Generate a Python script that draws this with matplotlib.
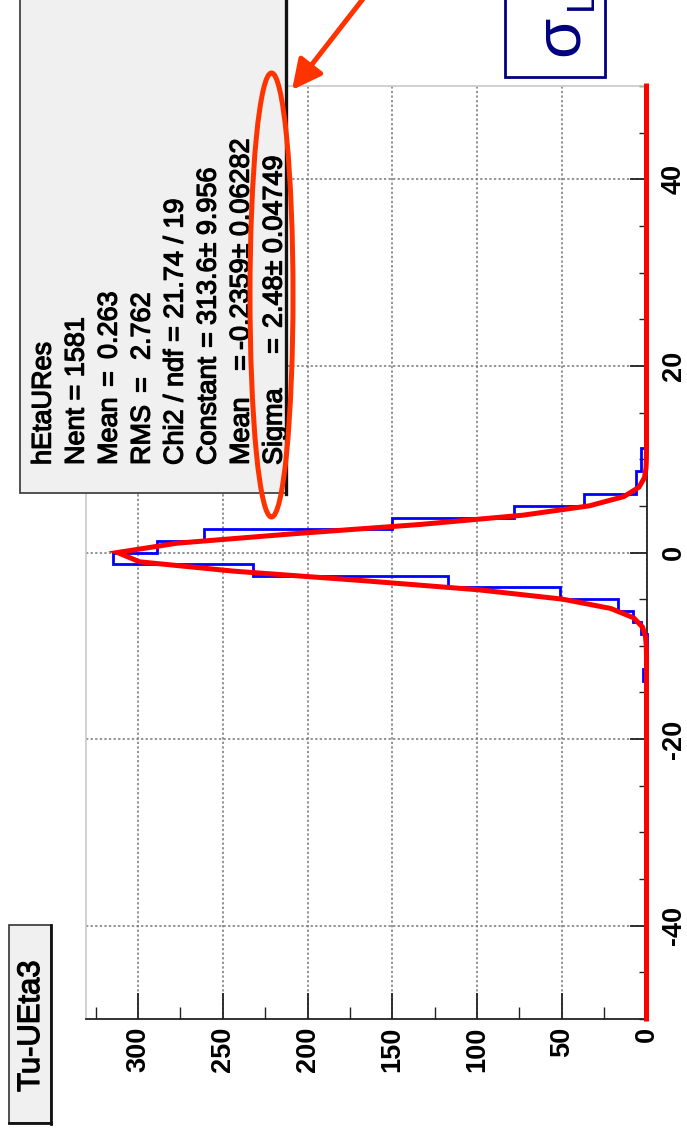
import numpy as np
import matplotlib
matplotlib.use("Agg")
import matplotlib.pyplot as plt
import matplotlib.patheffects as pe
from matplotlib.patches import Rectangle, Ellipse, FancyArrowPatch
from matplotlib.lines import Line2D
from matplotlib.ticker import FixedLocator, MultipleLocator

# ---------------- data ----------------
bin_low = -50.0
bin_high = 50.0
n_bins = 80
# counts per bin (bin width 1.25), from x=-50 upward
counts = [
    0, 0, 0, 0, 0, 0, 0, 0, 0, 0,
    0, 0, 0, 0, 0, 0, 0, 0, 0, 0,
    0, 0, 0, 0, 0, 1, 0, 0, 0, 2,
    0, 0, 0, 3, 8, 17, 51, 117, 232, 315,
    289, 261, 150, 78, 37, 6, 6, 3, 3, 0,
    0, 0, 0, 0, 0, 1, 0, 0, 0, 0,
    0, 0, 0, 1, 0, 0, 0, 0, 0, 0,
    0, 0, 0, 0, 0, 0, 0, 0, 0, 1,
]
# fit parameters as shown in the stats box
fit_constant = 313.6
fit_mean = -0.2359
fit_sigma = 2.48

x_ticks = [-40, -20, 0, 20, 40]
x_tick_labels = ["-40", "-20", "0", "20", "40"]
count_ticks = [0, 50, 100, 150, 200, 250, 300]
count_tick_labels = ["0", "50", "100", "150", "200", "250", "300"]
count_minor = [25, 75, 125, 175, 225, 275, 325]
count_max = 330.75

hist_name = "hEtaURes"
stats_names = ["Nent = 1581", "Mean", "RMS", "Chi2 / ndf = 21.74 / 19", "Constant", "Mean", "Sigma"]
stats_values = ["", "0.263", "2.762", "", "313.6\u00b1 9.956", "-0.2359\u00b1 0.06282", "2.48\u00b1 0.04749"]
title_text = "Tu-UEta3"
label_main = "\u03c3"
label_sub = "L"

# ---------------- figure ----------------
W, H, DPI = 687, 1134, 100
plt.rcParams["font.family"] = ["Liberation Sans", "DejaVu Sans"]
plt.rcParams["axes.unicode_minus"] = False
fig = plt.figure(figsize=(W / DPI, H / DPI), dpi=DPI, facecolor="white")


def fx(x):
    return x / W


def fy(y):
    return 1 - y / H


heavy = [pe.withStroke(linewidth=0.9, foreground="black")]

ax_l, ax_r, ax_t, ax_b = 86, 646.5, 86, 1019
ax = fig.add_axes([fx(ax_l), fy(ax_b), (ax_r - ax_l) / W, (ax_b - ax_t) / H])
ax.set_xlim(count_max, 0)
ax.set_ylim(bin_low, bin_high)

edges = np.linspace(bin_low, bin_high, n_bins + 1)
ax.stairs(counts, edges, orientation="horizontal", color="#0000ff", lw=2.0,
          baseline=0, zorder=3, clip_on=False)

xf = np.linspace(bin_low, bin_high, 101)
yf = fit_constant * np.exp(-0.5 * ((xf - fit_mean) / fit_sigma) ** 2)
ax.plot(yf, xf, color="#ff0000", lw=3.6, zorder=4, clip_on=False,
        solid_joinstyle="miter")

# grid
ax.grid(True, which="major", color="#777777", linestyle=(0, (1.5, 1.5)), linewidth=1.1)
ax.set_axisbelow(True)

# spines
for s in ["left", "top"]:
    ax.spines[s].set_color("#c8c8c8")
    ax.spines[s].set_linewidth(1.2)
for s in ["right", "bottom"]:
    ax.spines[s].set_color("#222222")
    ax.spines[s].set_linewidth(1.3)

# value axis (vertical, on the right)
ax.yaxis.tick_right()
ax.set_yticks(x_ticks, x_tick_labels, rotation=90, va="center", ha="left",
              fontweight="bold", fontsize=19.5)
ax.yaxis.set_minor_locator(MultipleLocator(5))
ax.tick_params(axis="y", which="major", direction="in", length=12.5, width=1.3,
               color="#222222", right=True, left=False, pad=10.4)
ax.tick_params(axis="y", which="minor", direction="in", length=6, width=1.0,
               color="#222222", right=True, left=False)

# count axis (horizontal, at the bottom)
ax.set_xticks(count_ticks, count_tick_labels, rotation=90, va="top", ha="center",
              fontweight="bold", fontsize=19.5)
ax.xaxis.set_minor_locator(FixedLocator(count_minor))
ax.tick_params(axis="x", which="major", direction="in", length=18.5, width=1.3,
               color="#222222", bottom=True, top=False, pad=5.8)
ax.tick_params(axis="x", which="minor", direction="in", length=9, width=1.0,
               color="#222222", bottom=True, top=False)

# ---------------- stats box ----------------
fig.add_artist(Rectangle((fx(19.8), fy(492.7)), fx(286) - fx(19.8), fy(-20) - fy(492.7),
                         transform=fig.transFigure, fc="#f0f0f0", ec="#444444", lw=1.3, zorder=10))
fig.add_artist(Line2D([fx(286), fx(286)], [fy(494), fy(-20)], transform=fig.transFigure,
                      color="#111111", lw=2.4, zorder=11))

fs_stats = 19.44
base_x = [50.6, 83.6, 116.6, 149.6, 182.6, 215.6, 248.6, 281.6]
text_start = 465
eq_pos = [None, None, 386, 392, None, 347, 370, 353]
val_pos = [None, None, 359, 360, None, 325, 350, 328]


def stat_text(xb, ys, s):
    fig.text(fx(xb), fy(ys), s, rotation=90, rotation_mode="anchor",
             ha="left", va="baseline", fontsize=fs_stats, zorder=12, path_effects=heavy)


stat_text(base_x[0], text_start, hist_name)
for i, (nm, vl) in enumerate(zip(stats_names, stats_values)):
    k = i + 1
    stat_text(base_x[k], text_start, nm)
    if vl:
        stat_text(base_x[k], eq_pos[k], "=")
        stat_text(base_x[k], val_pos[k], vl)

# ---------------- title box ----------------
fig.add_artist(Rectangle((fx(8.8), fy(1123)), fx(50.6) - fx(8.8), fy(925) - fy(1123),
                         transform=fig.transFigure, fc="#f0f0f0", ec="#333333", lw=1.2, zorder=10))
fig.add_artist(Line2D([fx(50.6), fx(50.6)], [fy(1124), fy(925)], transform=fig.transFigure,
                      color="#111111", lw=2.0, zorder=11))
fig.add_artist(Line2D([fx(8.8), fx(50.6)], [fy(1123), fy(1123)], transform=fig.transFigure,
                      color="#111111", lw=2.0, zorder=11))
fig.text(fx(31), fy(1026), title_text, rotation=90, ha="center", va="center",
         fontsize=22.3, zorder=12, path_effects=heavy)

# ---------------- sigma box ----------------
fig.add_artist(Rectangle((fx(505), fy(76.7)), fx(605) - fx(505), fy(-20) - fy(76.7),
                         transform=fig.transFigure, fc="white", ec="#000080", lw=2.0, zorder=10))
fig.text(fx(578), fy(56), label_main, rotation=90, rotation_mode="anchor",
         ha="left", va="baseline", fontsize=47, color="#000080", zorder=12)
fig.text(fx(592), fy(10), label_sub, rotation=90, rotation_mode="anchor",
         ha="left", va="baseline", fontsize=27, color="#000080", zorder=12)

# ---------------- annotations ----------------
fig.add_artist(FancyArrowPatch((fx(366), fy(-5)), (fx(292), fy(90)), transform=fig.transFigure,
                               arrowstyle="-|>,head_length=18,head_width=9", mutation_scale=1,
                               color="#ff3300", lw=3.6, shrinkA=0, shrinkB=0, zorder=14))
fig.add_artist(Ellipse((fx(271.5), fy(295)), 43 / W, 444 / H, transform=fig.transFigure,
                       fill=False, ec="#ff3300", lw=3.6, zorder=13))

fig.savefig("out.png", dpi=DPI, facecolor="white")
